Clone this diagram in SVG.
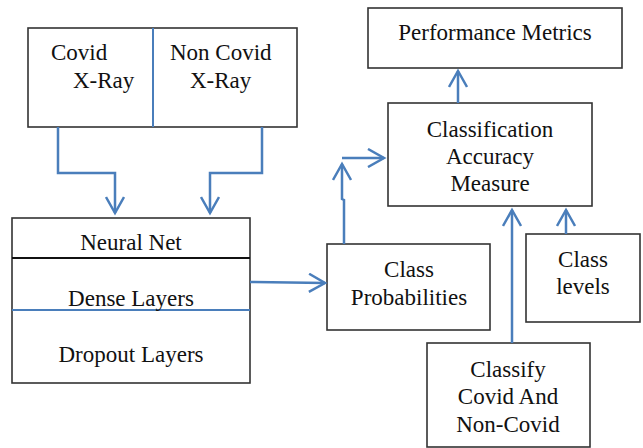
<svg xmlns="http://www.w3.org/2000/svg" width="643" height="448" viewBox="0 0 643 448" font-family="'Liberation Serif', 'DejaVu Serif', serif" font-size="23">
<defs>
<style>
.box{fill:#fff;stroke:#333;stroke-width:1.6}
.t{fill:#111}
.m{text-anchor:middle}
.c{fill:none;stroke:#4a7ebb;stroke-width:2.5}
.div{stroke:#4a7ebb;stroke-width:2}
</style>
<marker id="ah" viewBox="0 0 20 20" refX="17" refY="10" markerWidth="20" markerHeight="20" markerUnits="userSpaceOnUse" orient="auto">
<path d="M1,1 L17,10 L1,19" fill="none" stroke="#4a7ebb" stroke-width="2.5"/>
</marker>
</defs>
<rect width="643" height="448" fill="#fff"/>
<g id="xray">
<rect class="box" x="28" y="28" width="269" height="99"/>
<line class="div" x1="153" y1="28" x2="153" y2="127"/>
<text class="t" x="51" y="60">Covid</text>
<text class="t" x="73" y="88">X-Ray</text>
<text class="t" x="170" y="60">Non Covid</text>
<text class="t" x="190" y="88">X-Ray</text>
</g>
<g id="neuralnet">
<rect class="box" x="12" y="218" width="238" height="165"/>
<line x1="12" y1="258" x2="250" y2="258" stroke="#111" stroke-width="2"/>
<line class="div" x1="12" y1="310" x2="250" y2="310"/>
<text class="t m" x="131" y="250">Neural Net</text>
<text class="t m" x="131" y="306">Dense Layers</text>
<text class="t m" x="131" y="362">Dropout Layers</text>
</g>
<g id="classprob">
<rect class="box" x="327" y="244" width="163" height="86"/>
<text class="t m" x="409" y="277">Class</text>
<text class="t m" x="409" y="305">Probabilities</text>
</g>
<g id="classlevels">
<rect class="box" x="526" y="234" width="114" height="88"/>
<text class="t m" x="583" y="267">Class</text>
<text class="t m" x="583" y="294">levels</text>
</g>
<g id="classify">
<rect class="box" x="427" y="343" width="163" height="104"/>
<text class="t m" x="508" y="377">Classify</text>
<text class="t m" x="508" y="404">Covid And</text>
<text class="t m" x="508" y="432">Non-Covid</text>
</g>
<g id="perf">
<rect class="box" x="368" y="8" width="254" height="60"/>
<text class="t m" x="495" y="40">Performance Metrics</text>
</g>
<g id="cam">
<rect class="box" x="388" y="103" width="204" height="103"/>
<text class="t m" x="490" y="137">Classification</text>
<text class="t m" x="490" y="164">Accuracy</text>
<text class="t m" x="490" y="191">Measure</text>
</g>
<g id="connectors">
<path class="c" d="M58,127 V173 H115 V213" marker-end="url(#ah)"/>
<path class="c" d="M262,127 V173 H210 V213" marker-end="url(#ah)"/>
<path class="c" d="M250,282 L325,283" marker-end="url(#ah)"/>
<path class="c" d="M344,244 V200 L342,199 V164" marker-end="url(#ah)"/>
<path class="c" d="M342,158 H384" marker-end="url(#ah)"/>
<path class="c" d="M458,103 V71" marker-end="url(#ah)"/>
<path class="c" d="M512,343 V210" marker-end="url(#ah)"/>
<path class="c" d="M566,234 V210" marker-end="url(#ah)"/>
</g>
</svg>
